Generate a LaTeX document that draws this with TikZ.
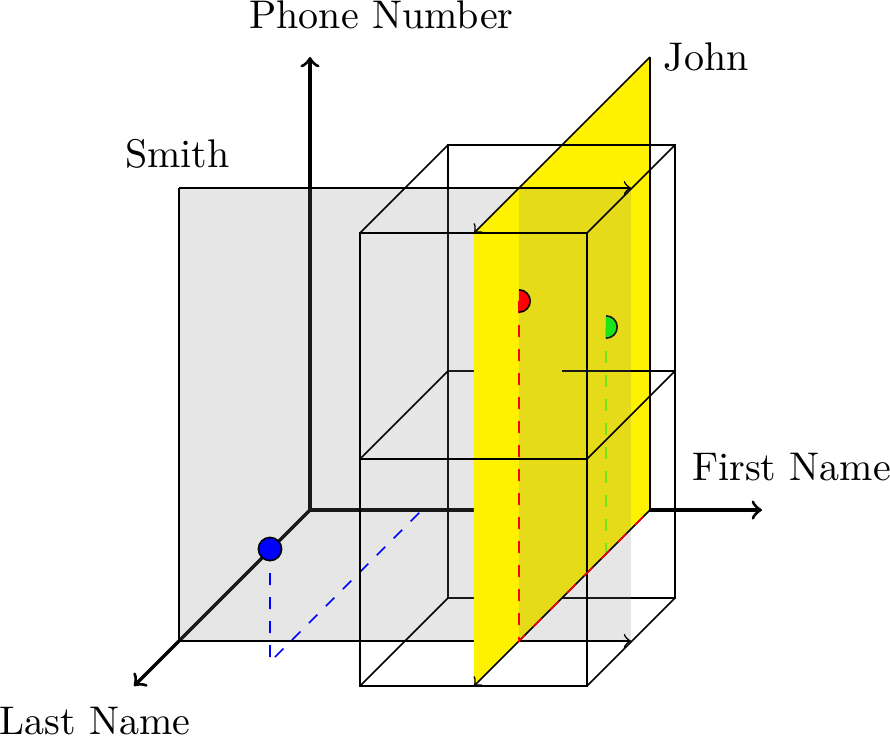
\documentclass[tikz,border=0pt]{standalone}
\begin{document}
\begin{tikzpicture}[
  x={(0.25pt,0pt)}, y={(0pt,0.25pt)}, z={(-0.25pt,-0.25pt)},
  axisline/.style={thick,->},
  planeedge/.style={->},
  yel/.style={fill=yellow},
  grayplane/.style={fill=gray, fill opacity=0.2},
  proj/.style={dashed},
  lbl/.style={anchor=base, inner sep=0pt},
  dotarc/.style={draw=black}
]
\useasboundingbox (-310,510) rectangle (580,-233);

% axes
\coordinate (O) at (0,0,0);
\coordinate (Yt) at (0,453,0);
\coordinate (Xe) at (452,0,0);
\coordinate (Ze) at (0,0,176);
% Smith plane (z = 131)
\coordinate (S00) at (0,0,131);
\coordinate (S01) at (0,453,131);
\coordinate (S11) at (452,453,131);
\coordinate (S10) at (452,0,131);
% John plane (x = 340)
\coordinate (J0b) at (340,0,0);
\coordinate (J1b) at (340,453,0);
\coordinate (J0m) at (340,0,88);
\coordinate (J1m) at (340,453,88);
\coordinate (J0s) at (340,0,131);
\coordinate (J1s) at (340,453,131);
\coordinate (J0f) at (340,0,176);
\coordinate (J1f) at (340,453,176);
% box back face (z = 88)
\coordinate (B00) at (226,0,88);
\coordinate (B10) at (453,0,88);
\coordinate (B0m) at (226,227,88);
\coordinate (B1m) at (453,227,88);
\coordinate (B01) at (226,453,88);
\coordinate (B11) at (453,453,88);
% box front face (z = 176)
\coordinate (F00) at (226,0,176);
\coordinate (F10) at (453,0,176);
\coordinate (F0m) at (226,227,176);
\coordinate (F1m) at (453,227,176);
\coordinate (F01) at (226,453,176);
\coordinate (F11) at (453,453,176);
% points
\coordinate (R) at (340,340,131);
\coordinate (Rf) at (340,0,131);
\coordinate (G) at (340,227,44);
\coordinate (Gf) at (340,0,44);
\coordinate (Bl) at (112,113,152);
\coordinate (Blf) at (112,0,152);
\coordinate (Blx) at (112,0,0);

% axes
\draw[axisline] (O) -- (Yt);
\draw[axisline] (O) -- (Xe);
\draw[axisline] (O) -- (Ze);

% yellow plane, back part
\fill[yel] (J0b) -- (J1b) -- (J1m) -- (J0m) -- cycle;

% green point
\draw[proj, green!55!yellow] (G) -- (Gf);
\fill[green] (G) ++(0pt,2.8pt) arc[start angle=90, end angle=-90, radius=2.8pt] -- cycle;
\draw[dotarc] (G) ++(0pt,2.8pt) arc[start angle=90, end angle=-90, radius=2.8pt];

% box back face
\draw (B00) -- (B10) -- (B11) -- (B01) -- cycle;
\draw (B0m) -- (B1m);

% yellow plane, middle part
\fill[yel] (J0m) -- (J1m) -- (J1s) -- (J0s) -- cycle;

% Smith plane
\fill[grayplane] (S00) -- (S01) -- (S11) -- (S10) -- cycle;
\draw (S00) -- (S01);
\draw[planeedge] (S01) -- (S11);
\draw[planeedge] (S00) -- (S10);

% yellow plane, front part
\fill[yel] (J0s) -- (J1s) -- (J1f) -- (J0f) -- cycle;

% blue point
\draw[proj, blue] (Bl) -- (Blf) -- (Blx);
\filldraw[fill=blue, draw=black] (Bl) circle[radius=2.9pt];

% box front face and connectors
\draw (F00) -- (F10) -- (F11) -- (F01) -- cycle;
\draw (F0m) -- (F1m);
\draw (B00) -- (F00);
\draw (B10) -- (F10);
\draw (B0m) -- (F0m);
\draw (B1m) -- (F1m);
\draw (B01) -- (F01);
\draw (B11) -- (F11);

% John plane edges
\draw (J0b) -- (J1b);
\draw[planeedge] (J1b) -- (J1f);
\draw[planeedge] (J0b) -- (J0f);

% red point
\draw[proj, red] (R) -- (Rf) -- (J0b);
\fill[red] (R) ++(0pt,2.8pt) arc[start angle=90, end angle=-90, radius=2.8pt] -- cycle;
\draw[dotarc] (R) ++(0pt,2.8pt) arc[start angle=90, end angle=-90, radius=2.8pt];

% labels
\node[lbl] (lphone) at (71.5,482) {Phone Number};
\node[lbl] (ljohn) at (396,440) {John};
\node[lbl] (lsmith) at (-132.5,343) {Smith};
\node[lbl] (lfirst) at (481.5,30) {First Name};
\node[lbl] (llast) at (-215,-224) {Last Name};
\end{tikzpicture}
\end{document}
